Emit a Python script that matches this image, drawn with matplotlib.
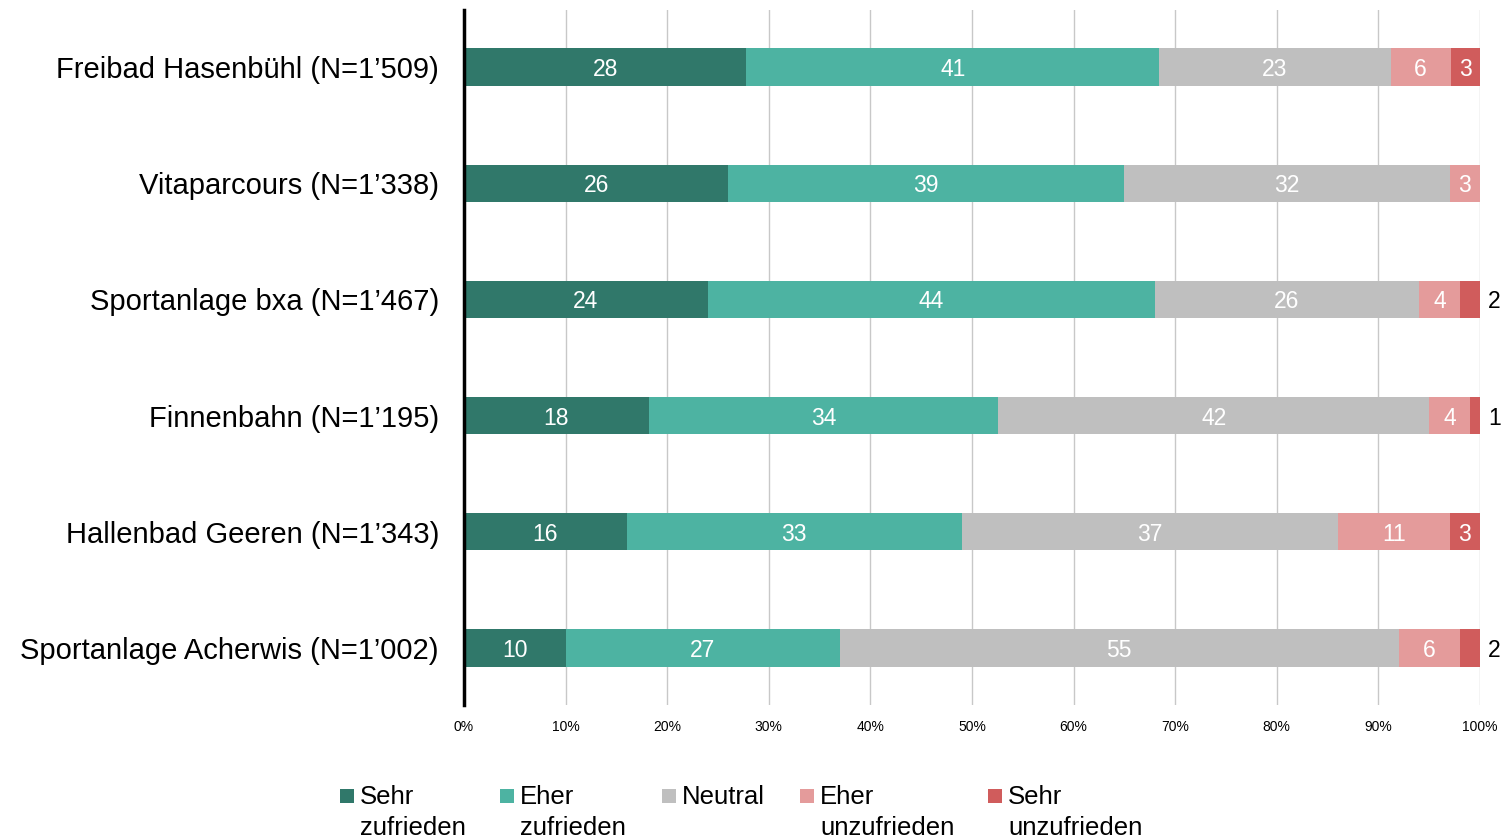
import matplotlib
matplotlib.use("Agg")
import matplotlib.pyplot as plt
from matplotlib.patches import Rectangle
import numpy as np

plt.rcParams['font.family'] = ['Liberation Sans', 'DejaVu Sans']

categories = [
    "Freibad Hasenbühl (N=1’509)",
    "Vitaparcours (N=1’338)",
    "Sportanlage bxa (N=1’467)",
    "Finnenbahn (N=1’195)",
    "Hallenbad Geeren (N=1’343)",
    "Sportanlage Acherwis (N=1’002)",
]
series_names = ["Sehr\nzufrieden", "Eher\nzufrieden", "Neutral", "Eher\nunzufrieden", "Sehr\nunzufrieden"]
sehr_zufrieden = [27.8, 26.0, 24.0, 18.2, 16.0, 10.0]
eher_zufrieden = [40.6, 39.0, 44.0, 34.4, 33.0, 27.0]
neutral = [22.8, 32.0, 26.0, 42.4, 37.0, 55.0]
eher_unzufrieden = [5.9, 3.0, 4.0, 4.0, 11.0, 6.0]
sehr_unzufrieden = [2.9, 0.0, 2.0, 1.0, 3.0, 2.0]
x_ticks = [0, 10, 20, 30, 40, 50, 60, 70, 80, 90, 100]

colors = ["#30786A", "#4DB3A2", "#BFBFBF", "#E49B9B", "#D05C5C"]
series = [sehr_zufrieden, eher_zufrieden, neutral, eher_unzufrieden, sehr_unzufrieden]

W, H = 1505, 838
fig = plt.figure(figsize=(W/100, H/100), dpi=100)
ax = fig.add_axes([464/W, 1 - 705/H, (1480-464)/W, (705-10)/H])

y = np.arange(len(categories))
left = np.zeros(len(categories))
for vals, col in zip(series, colors):
    vals = np.array(vals)
    ax.barh(y, vals, left=left, height=0.32, color=col, zorder=3)
    for i, v in enumerate(vals):
        if v <= 0:
            continue
        lab = str(int(np.floor(v + 0.5)))
        if v >= 2.5:
            ax.text(left[i] + v / 2, y[i], lab, ha='center', va='center_baseline',
                    color='white', fontsize=16.5, zorder=4)
        else:
            ax.text(101.4, y[i], lab, ha='center', va='center_baseline',
                    color='black', fontsize=16.5, zorder=4, clip_on=False)
    left += vals

ax.set_xlim(0, 100)
ax.set_ylim(5.49, -0.49)
ax.set_yticks(y)
ax.set_yticklabels(categories, fontsize=21)
ax.set_xticks(x_ticks)
ax.set_xticklabels([f"{t}%" for t in x_ticks], fontsize=10)
ax.tick_params(axis='y', length=0, pad=18)
ax.tick_params(axis='x', length=0, pad=11)
ax.grid(axis='x', color='#C8C8C8', linewidth=1, zorder=0)
for s in ['top', 'right', 'bottom']:
    ax.spines[s].set_visible(False)
ax.spines['left'].set_linewidth(2.5)
ax.spines['left'].set_color('black')
ax.spines['left'].set_zorder(5)

# legend drawn manually for exact placement
leg_x = [340, 500, 662, 800, 988]
for lx, name, col in zip(leg_x, series_names, colors):
    fig.patches.append(Rectangle((lx/W, 1 - 803/H), 14/W, 14/H, transform=fig.transFigure,
                                 facecolor=col, edgecolor='none'))
    fig.text((lx + 20)/W, 1 - 785/H, name, ha='left', va='top', fontsize=18.5,
             linespacing=1.38)

fig.savefig("out.png", dpi=100)
